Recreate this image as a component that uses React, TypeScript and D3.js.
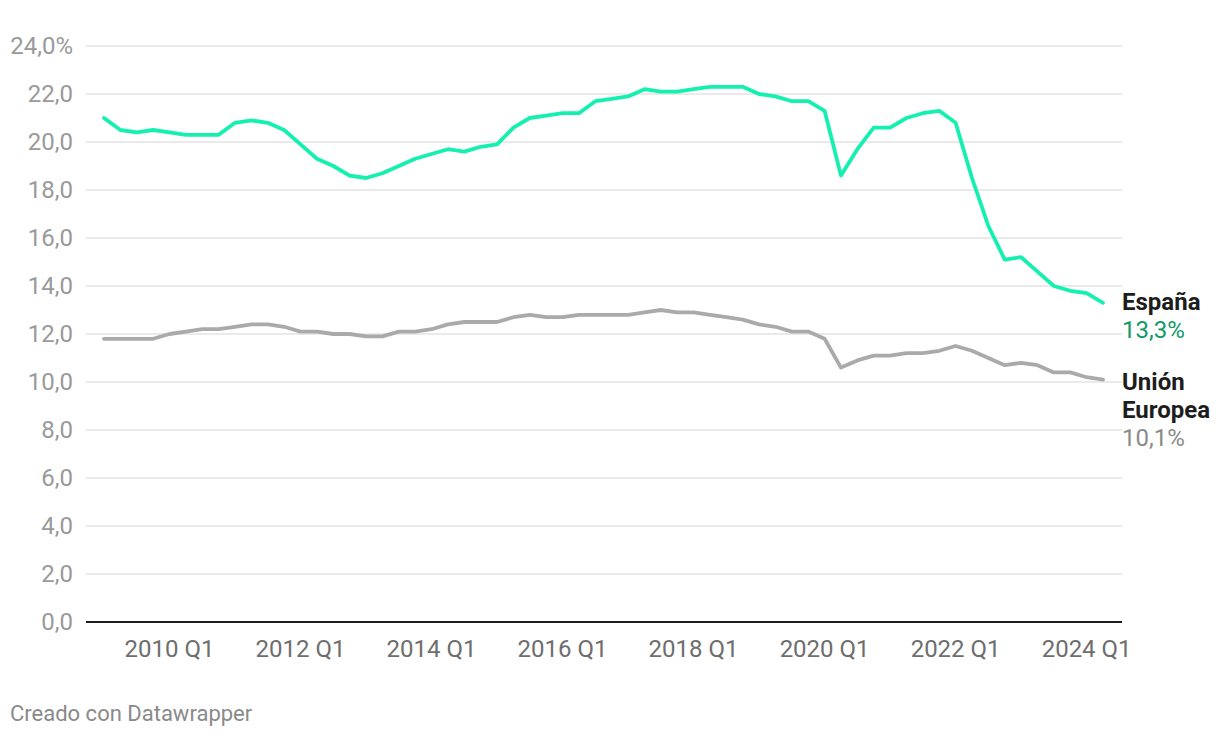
import React from "react";
import * as d3 from "d3";

const startYear = 2009;
const spain = [
  21.0, 20.5, 20.4, 20.5, 20.4, 20.3, 20.3, 20.3, 20.8, 20.9, 20.8, 20.5,
  19.9, 19.3, 19.0, 18.6, 18.5, 18.7, 19.0, 19.3, 19.5, 19.7, 19.6, 19.8,
  19.9, 20.6, 21.0, 21.1, 21.2, 21.2, 21.7, 21.8, 21.9, 22.2, 22.1, 22.1,
  22.2, 22.3, 22.3, 22.3, 22.0, 21.9, 21.7, 21.7, 21.3, 18.6, 19.7, 20.6,
  20.6, 21.0, 21.2, 21.3, 20.8, 18.5, 16.5, 15.1, 15.2, 14.6, 14.0, 13.8,
  13.7, 13.3,
];
const eu = [
  11.8, 11.8, 11.8, 11.8, 12.0, 12.1, 12.2, 12.2, 12.3, 12.4, 12.4, 12.3,
  12.1, 12.1, 12.0, 12.0, 11.9, 11.9, 12.1, 12.1, 12.2, 12.4, 12.5, 12.5,
  12.5, 12.7, 12.8, 12.7, 12.7, 12.8, 12.8, 12.8, 12.8, 12.9, 13.0, 12.9,
  12.9, 12.8, 12.7, 12.6, 12.4, 12.3, 12.1, 12.1, 11.8, 10.6, 10.9, 11.1,
  11.1, 11.2, 11.2, 11.3, 11.5, 11.3, 11.0, 10.7, 10.8, 10.7, 10.4, 10.4,
  10.2, 10.1,
];
const quarters = spain.map((_, i) => `${startYear + Math.floor(i / 4)} Q${(i % 4) + 1}`);
const yTicks = [0, 2, 4, 6, 8, 10, 12, 14, 16, 18, 20, 22, 24];
const xTickLabels = ["2010 Q1", "2012 Q1", "2014 Q1", "2016 Q1", "2018 Q1", "2020 Q1", "2022 Q1", "2024 Q1"];

const fmt = (v: number) => v.toFixed(1).replace(".", ",");

export default function App() {
  const W = 1220, H = 738;
  const x = d3.scaleLinear().domain([0, spain.length - 1]).range([104, 1103]);
  const y = d3.scaleLinear().domain([0, 24]).range([622, 46]);
  const gridX0 = 86, gridX1 = 1122;
  const line = d3
    .line<number>()
    .x((_, i) => x(i))
    .y((d) => y(d));
  const font = "Roboto, 'Noto Sans', sans-serif";
  const last = spain.length - 1;
  return (
    <svg
      width={W}
      height={H}
      style={{ position: "absolute", left: 0, top: 0, background: "#fff" }}
      fontFamily={font}
    >
      {yTicks.map((t) => (
        <g key={t}>
          {t !== 0 && (
            <line x1={gridX0} x2={gridX1} y1={y(t)} y2={y(t)} stroke="#e3e3e3" strokeWidth={1.5} />
          )}
          <text x={73} y={y(t)} dy="0.35em" textAnchor="end" fontSize={24} fill="#9a9a9a">
            {fmt(t) + (t === 24 ? "%" : "")}
          </text>
        </g>
      ))}
      {xTickLabels.map((lab) => {
        const i = quarters.indexOf(lab);
        return (
          <text key={lab} x={x(i)} y={657} textAnchor="middle" fontSize={24} fill="#6e6e6e">
            {lab}
          </text>
        );
      })}
      <path d={line(eu) || ""} fill="none" stroke="#aaaaaa" strokeWidth={3.8} strokeLinejoin="round" strokeLinecap="round" />
      <path d={line(spain) || ""} fill="none" stroke="#14f0b0" strokeWidth={3.8} strokeLinejoin="round" strokeLinecap="round" />
      <line x1={gridX0} x2={gridX1} y1={y(0)} y2={y(0)} stroke="#1d1d1d" strokeWidth={2} />
      <g fontSize={24}>
        <text x={1122} y={310} fontWeight="bold" fill="#1d1d1d">España</text>
        <text x={1122} y={338} fill="#0f9a68">{fmt(spain[last])}%</text>
        <text x={1122} y={390} fontWeight="bold" fill="#1d1d1d">Unión</text>
        <text x={1122} y={418} fontWeight="bold" fill="#1d1d1d">Europea</text>
        <text x={1122} y={446} fill="#8a8a8a">{fmt(eu[last])}%</text>
      </g>
      <text x={10} y={721} fontSize={22} fill="#8a8a8a">Creado con Datawrapper</text>
    </svg>
  );
}
